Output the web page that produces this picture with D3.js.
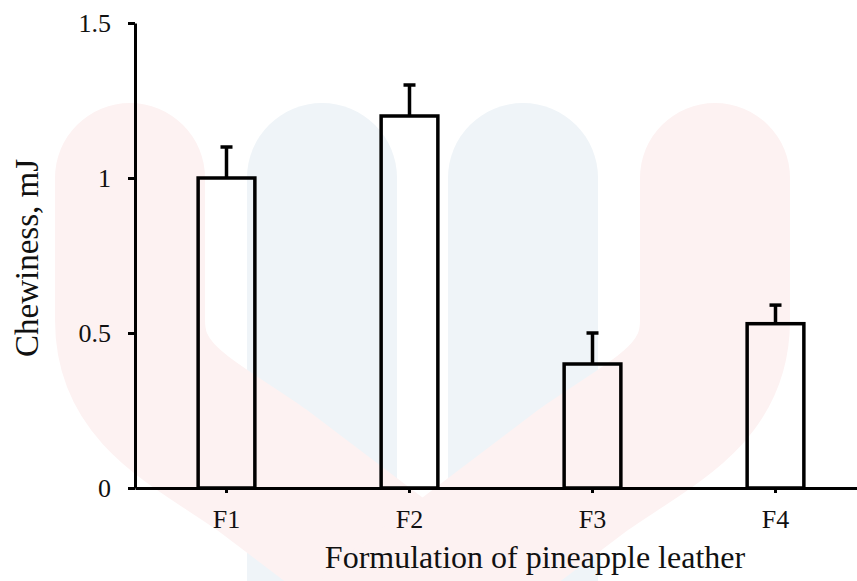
<!DOCTYPE html>
<html>
<head>
<meta charset="utf-8">
<script src="https://cdn.jsdelivr.net/npm/d3@7"></script>
<style>
  body { margin: 0; background: #fff; }
  svg { display: block; font-family: "Liberation Serif", "Times New Roman", serif; }
  .axis path, .axis line { stroke: #000; stroke-width: 3; }
  .axis text { font-size: 26px; fill: #111; font-family: "Liberation Serif", serif; }
  .bar { fill: none; stroke: #000; stroke-width: 3.5; }
  .err { stroke: #000; stroke-width: 3.5; }
  .title { font-size: 32px; fill: #111; }
</style>
</head>
<body>
<svg width="857" height="581"></svg>
<script>
const formulations = ["F1", "F2", "F3", "F4"]
const chewiness = [1.0, 1.2, 0.4, 0.53]
const errors = [0.1, 0.1, 0.1, 0.06]
const yTicks = [0, 0.5, 1, 1.5]

const data = formulations.map((f, i) => ({ name: f, value: chewiness[i], err: errors[i] }))

const svg = d3.select("svg")

// faint watermark behind the chart
const wm = svg.append("g").attr("class", "watermark")
const blueCols = [[322, 178, 322, 600], [523, 178, 523, 600]]
blueCols.forEach(c => {
  wm.append("path")
    .attr("d", `M${c[0]},${c[1]}L${c[2]},${c[3]}`)
    .attr("stroke", "#eff4f8")
    .attr("stroke-width", 150)
    .attr("stroke-linecap", "round")
    .attr("fill", "none")
})
const pinkArms = [
  "M130,178L130,320C130,395 190,420 262,470L460,620",
  "M715,178L715,320C715,395 655,420 583,470L385,620"
]
pinkArms.forEach(d => {
  wm.append("path")
    .attr("d", d)
    .attr("stroke", "#fdf2f2")
    .attr("stroke-width", 150)
    .attr("stroke-linecap", "round")
    .attr("fill", "none")
})

const y = d3.scaleLinear()
  .domain([0, 1.5])
  .range([488, 23])

const x = d3.scaleBand()
  .domain(formulations)
  .range([135, 867])
  .paddingInner(0.69)
  .paddingOuter(0.345)

// bars
svg.selectAll("rect.bar")
  .data(data)
  .enter()
  .append("rect")
  .attr("class", "bar")
  .attr("x", d => x(d.name))
  .attr("y", d => y(d.value))
  .attr("width", x.bandwidth())
  .attr("height", d => y(0) - y(d.value))

// error bars (upper only)
const cx = d => x(d.name) + x.bandwidth() / 2
svg.selectAll("line.err-v")
  .data(data)
  .enter()
  .append("line")
  .attr("class", "err")
  .attr("x1", cx)
  .attr("x2", cx)
  .attr("y1", d => y(d.value))
  .attr("y2", d => y(d.value + d.err))

svg.selectAll("line.err-cap")
  .data(data)
  .enter()
  .append("line")
  .attr("class", "err")
  .attr("x1", d => cx(d) - 6)
  .attr("x2", d => cx(d) + 6)
  .attr("y1", d => y(d.value + d.err))
  .attr("y2", d => y(d.value + d.err))

// x axis
svg.append("g")
  .attr("class", "axis")
  .attr("transform", `translate(0, ${y(0)})`)
  .call(d3.axisBottom(x).tickSize(5).tickSizeOuter(0).tickPadding(17))

// y axis
svg.append("g")
  .attr("class", "axis")
  .attr("transform", "translate(135, 0)")
  .call(d3.axisLeft(y).tickValues(yTicks).tickFormat(d3.format("")).tickSize(7).tickSizeOuter(0).tickPadding(17))

// axis titles
svg.append("text")
  .attr("class", "title")
  .attr("x", 535)
  .attr("y", 568)
  .attr("text-anchor", "middle")
  .text("Formulation of pineapple leather")

svg.append("text")
  .attr("class", "title")
  .style("font-size", "33px")
  .attr("transform", "translate(38, 258) rotate(-90)")
  .attr("text-anchor", "middle")
  .text("Chewiness, mJ")
</script>
</body>
</html>
